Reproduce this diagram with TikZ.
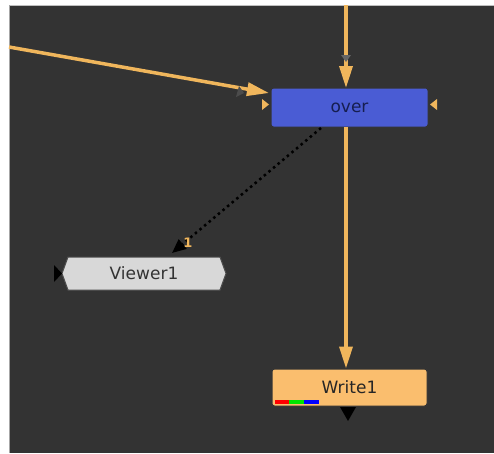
\documentclass[tikz,border=0pt]{standalone}
\usepackage{fontspec}
\setmainfont{DejaVu Sans}
\usetikzlibrary{arrows.meta,shapes.symbols}
\definecolor{bg}{RGB}{51,51,51}
\definecolor{wire}{RGB}{240,182,92}
\definecolor{overfill}{RGB}{74,92,212}
\definecolor{overtext}{RGB}{22,30,80}
\definecolor{writefill}{RGB}{250,190,110}
\definecolor{viewfill}{RGB}{216,216,216}
\tikzset{
  nodebox/.style={draw=black!80, line width=1pt, rounded corners=2.5pt, inner sep=0pt, font=\fontsize{17}{20}\selectfont},
  overbox/.style={nodebox, fill=overfill, text=overtext, minimum width=157pt, minimum height=39pt},
  writebox/.style={nodebox, fill=writefill, text=black!85, minimum width=155pt, minimum height=37pt},
  viewbox/.style={signal, signal to=west and east, signal pointer angle=140, draw=black!70, line width=1pt, fill=viewfill, text=black!80, inner sep=0pt, minimum width=164pt, minimum height=33pt, font=\fontsize{17}{20}\selectfont},
  wireline/.style={draw=wire, line width=3.5pt},
  wirearrow/.style={wireline, -{Triangle[length=22pt,width=13pt]}},
  dotline/.style={draw=black, line width=2.5pt, dash pattern=on 2.5pt off 3.5pt, -{Triangle[length=14pt,width=12pt]}},
  marker/.style={fill=wire, draw=none},
  blackmark/.style={fill=black, draw=none}
}
\begin{document}
\begin{tikzpicture}[x=1pt,y=-1pt]
\useasboundingbox (0,0) rectangle (494,453);
\fill[white] (0,0) rectangle (494,453);
\fill[bg] (9,5) rectangle (494,453);
\draw[black!25, line width=1.5pt] (9,5.5) -- (494,5.5);
\draw[black!35, line width=1pt] (9.5,5) -- (9.5,453);

\node[overbox] (over) at (349.5,107.5) {over};
\node[writebox] (write) at (349.5,387.5) {Write1};
\node[viewbox] (viewer) at (144,273.5) {Viewer1};

\coordinate (topin) at (346,5);
\coordinate (leftin) at (9,47);
\coordinate (leftend) at (269,93);
\coordinate (dotstart) at (321,128);
\coordinate (dotend) at (172,253);

% wires
\draw[wirearrow] (topin) -- (346,88);
\draw[wirearrow] (leftin) -- (leftend);
\draw[wirearrow] (346,127) -- (write.north -| 346,0);
\draw[dotline] (dotstart) -- (dotend);
\node[text=wire, font=\fontsize{13}{14}\selectfont\bfseries, inner sep=0pt] (one) at (188,243) {1};

% small dark marks on wires
\fill[black!70] (239,86) -- (244,93) -- (236,97) -- cycle;
\fill[black!60] (341,55) -- (351,55) -- (346,62) -- cycle;

% input markers
\fill[marker] (262,99) -- (262,110) -- (269,104.5) -- cycle;
\fill[marker] (437,99) -- (437,110) -- (430,104.5) -- cycle;
\fill[blackmark] (54,265) -- (54,282) -- (62,273.5) -- cycle;
\fill[blackmark] (340,407) -- (356,407) -- (348,421) -- cycle;

% colour bar on Write1
\fill[red] (275,400) rectangle (289,404);
\fill[green!90!black] (289,400) rectangle (304,404);
\fill[blue] (304,400) rectangle (319,404);
\end{tikzpicture}
\end{document}
